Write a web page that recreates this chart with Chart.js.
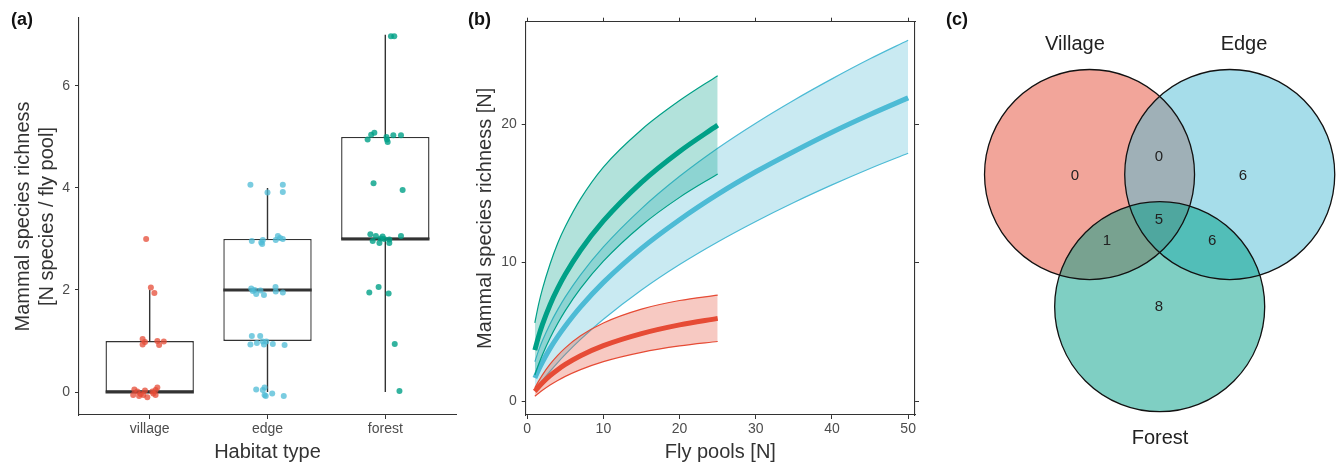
<!DOCTYPE html>
<html>
<head>
<meta charset="utf-8">
<script src="https://cdn.jsdelivr.net/npm/chart.js@4.4.1/dist/chart.umd.min.js"></script>
<style>
  body { margin: 0; background: #fff; width: 1338px; height: 466px; position: relative; overflow: hidden;
         font-family: 'Liberation Sans', Arial, sans-serif; }
  canvas { position: absolute; top: 0; }
  .tag { position: absolute; top: 8px; font-weight: bold; font-size: 18px; line-height: 22px; color: #111; }
</style>
</head>
<body>
<canvas id="box" width="460" height="466" style="left:0"></canvas>
<canvas id="curve" width="480" height="466" style="left:460px"></canvas>
<canvas id="venn" width="398" height="466" style="left:940px"></canvas>
<div class="tag" style="left:11px">(a)</div>
<div class="tag" style="left:468px">(b)</div>
<div class="tag" style="left:946px">(c)</div>
<script>
// ---- (a) richness per fly pool ----
const habitats = ['village', 'edge', 'forest'];
const whiskerLow = [0, 0, 0];
const boxQ1 = [0, 1, 3];
const boxMedian = [0, 2, 3];
const boxQ3 = [1, 3, 5];
const whiskerHigh = [2, 4, 7];
const poolTicks = [0, 2, 4, 6];

// jittered points (offset from category, value)
const villageJitter = [-0.03, 0.01, 0.04, -0.06, -0.06, 0.065, 0.08, 0.12, -0.04, -0.13, -0.14, -0.105, -0.076, -0.054, -0.02, 0.023, 0.05, 0.065, 0.05, -0.09, 0.03, -0.04];
const villageY = [3.0, 2.05, 1.94, 1.04, 0.93, 1.0, 0.92, 0.99, 0.98, 0.05, -0.06, 0.01, -0.04, -0.06, -0.1, 0.01, 0.04, 0.09, -0.06, -0.08, -0.03, 0.03];
const edgeJitter = [-0.145, 0.13, 0.0, 0.13, -0.133, -0.053, -0.04, -0.045, 0.088, 0.107, 0.13, 0.07, -0.138, -0.11, -0.096, -0.06, -0.03, 0.068, 0.07, 0.13, -0.125, -0.133, -0.145, -0.062, -0.09, -0.04, -0.03, -0.01, 0.045, 0.145, -0.096, -0.04, -0.025, -0.015, 0.04, 0.138, -0.025];
const edgeY = [4.06, 4.06, 3.91, 3.92, 2.96, 2.93, 2.98, 2.9, 3.06, 3.02, 3.0, 2.98, 2.03, 2.0, 1.92, 1.99, 1.9, 2.06, 1.97, 1.95, 1.98, 1.1, 0.93, 1.1, 0.96, 0.99, 0.93, 0.99, 0.94, 0.92, 0.05, 0.04, -0.06, -0.08, -0.03, -0.08, 0.09];
const forestJitter = [0.048, 0.076, -0.15, -0.12, -0.093, 0.014, 0.02, 0.068, 0.133, 0.01, -0.1, 0.147, -0.127, -0.08, -0.107, -0.05, -0.023, -0.01, 0.034, 0.034, 0.133, -0.04, -0.136, -0.057, 0.028, 0.08, 0.12];
const forestY = [6.97, 6.97, 4.95, 5.04, 5.08, 4.95, 4.9, 5.03, 5.03, 5.0, 4.09, 3.96, 3.09, 3.06, 2.96, 2.92, 3.05, 3.0, 2.99, 2.92, 3.06, 3.01, 1.95, 2.06, 1.93, 0.94, 0.02];

// ---- (b) accumulation curves ----
const poolsShort = [1, 1.5, 2, 3, 4, 5, 7, 10, 15, 20, 25];
const poolsLong = [1, 1.5, 2, 3, 4, 5, 7, 10, 15, 20, 25, 30, 35, 40, 45, 50];
const forestUpper = [5.65, 7.0, 8.1, 9.9, 11.4, 12.6, 14.6, 16.9, 19.6, 21.7, 23.5];
const forestMean = [3.68, 4.69, 5.54, 6.96, 8.13, 9.15, 10.89, 13.01, 15.8, 18.03, 19.93];
const forestLower = [1.88, 2.65, 3.34, 4.55, 5.6, 6.53, 8.13, 10.1, 12.68, 14.71, 16.4];
const edgeUpper = [2.84, 3.66, 4.37, 5.57, 6.6, 7.52, 9.11, 11.13, 13.9, 16.23, 18.26, 20.07, 21.73, 23.27, 24.72, 26.06];
const edgeMean = [1.66, 2.27, 2.82, 3.8, 4.65, 5.42, 6.8, 8.57, 11.03, 13.1, 14.93, 16.56, 18.03, 19.42, 20.7, 21.9];
const edgeLower = [0.75, 1.12, 1.48, 2.15, 2.78, 3.37, 4.45, 5.91, 8.02, 9.86, 11.49, 12.97, 14.34, 15.61, 16.8, 17.9];
const villageUpper = [0.95, 1.44, 1.89, 2.66, 3.3, 3.84, 4.71, 5.64, 6.64, 7.26, 7.65];
const villageMean = [0.7, 1.03, 1.32, 1.83, 2.26, 2.64, 3.27, 4.0, 4.87, 5.5, 5.97];
const villageLower = [0.35, 0.565, 0.77, 1.15, 1.48, 1.78, 2.27, 2.85, 3.52, 3.98, 4.3];
const flyTicks = [0, 10, 20, 30, 40, 50];
const speciesTicks = [0, 10, 20];

// ---- (c) shared species ----
const vennSets = ['Village', 'Edge', 'Forest'];
const vennRegions = ['Village', 'Village+Edge', 'Edge', 'All', 'Village+Forest', 'Edge+Forest', 'Forest'];
const vennCounts = [0, 0, 6, 5, 1, 6, 8];

const RED = '#E64B35', BLUE = '#4DBBD5', GREEN = '#00A087';
const INK = '#333333', TICK = '#4d4d4d';

Chart.defaults.font.family = "'Liberation Sans', Arial, sans-serif";
Chart.defaults.animation = false;
Chart.defaults.responsive = false;
Chart.defaults.devicePixelRatio = 1;
Chart.defaults.events = [];
Chart.defaults.plugins.legend.display = false;
Chart.defaults.plugins.tooltip.enabled = false;

const axisGrid = { drawOnChartArea: false, drawTicks: true, tickLength: 4, color: INK, lineWidth: 1 };
const axisBorder = { display: true, color: INK, width: 1.1 };
const tickFont = { size: 14 };
const setTicks = vals => s => { s.ticks = vals.map(v => ({ value: v })); };

// ---------- panel (a) ----------
const halfBox = 0.375;
const whiskerSegs = [], medianSegs = [];
habitats.forEach((h, i) => {
  whiskerSegs.push({ x: i, y: whiskerLow[i] }, { x: i, y: boxQ1[i] }, { x: i, y: null },
                   { x: i, y: boxQ3[i] }, { x: i, y: whiskerHigh[i] }, { x: i, y: null });
  medianSegs.push({ x: i - halfBox, y: boxMedian[i] }, { x: i + halfBox, y: boxMedian[i] }, { x: i, y: null });
});
const jitterSet = (idx, jit, ys, col) => ({
  type: 'scatter', data: ys.map((y, k) => ({ x: idx + jit[k], y })),
  backgroundColor: col, borderWidth: 0, pointRadius: 3, order: 0
});

new Chart(document.getElementById('box'), {
  type: 'bar',
  data: {
    datasets: [
      jitterSet(0, villageJitter, villageY, 'rgba(230,75,53,0.75)'),
      jitterSet(1, edgeJitter, edgeY, 'rgba(77,187,213,0.75)'),
      jitterSet(2, forestJitter, forestY, 'rgba(0,160,135,0.8)'),
      { type: 'line', data: medianSegs, borderColor: INK, borderWidth: 3, pointRadius: 0, spanGaps: false, order: 1 },
      { type: 'line', data: whiskerSegs, borderColor: INK, borderWidth: 1.4, pointRadius: 0, spanGaps: false, order: 2 },
      { type: 'bar', data: habitats.map((h, i) => ({ x: i, y: [boxQ1[i], boxQ3[i]] })),
        backgroundColor: '#fff', borderColor: INK, borderWidth: 1.4, borderSkipped: false,
        barPercentage: 0.75, categoryPercentage: 1, order: 3 }
    ]
  },
  options: {
    layout: { padding: { top: 18, right: 4, left: 0, bottom: 0 } },
    scales: {
      x: {
        type: 'linear', min: -0.6, max: 2.6, offset: false,
        afterBuildTicks: setTicks(habitats.map((h, i) => i)),
        afterFit: s => { s.height = 51; },
        grid: { ...axisGrid, offset: false }, border: axisBorder,
        ticks: { font: tickFont, color: TICK, padding: 2, maxRotation: 0, callback: v => habitats[v] },
        title: { display: true, text: 'Habitat type', color: INK, font: { size: 20, lineHeight: 1.2 }, padding: { top: 0, bottom: 2 } }
      },
      y: {
        type: 'linear', min: -0.45, max: 7.33,
        afterBuildTicks: setTicks(poolTicks),
        afterFit: s => { s.width = 79; },
        grid: axisGrid, border: axisBorder,
        ticks: { font: tickFont, color: TICK, padding: 5 },
        title: { display: true, text: ['Mammal species richness', '[N species / fly pool]'], color: INK,
                 font: { size: 20, lineHeight: 1.2 }, padding: { top: 11, bottom: 0 } }
      }
    }
  }
});

// ---------- panel (b) ----------
function band(xs, hi, mid, lo, col, fillCol, order) {
  const pts = arr => xs.map((x, i) => ({ x, y: arr[i] }));
  const base = { borderColor: col, pointRadius: 0, cubicInterpolationMode: 'monotone', borderCapStyle: 'butt' };
  return [
    { ...base, data: pts(hi), borderWidth: 1.2, fill: '+2', backgroundColor: fillCol, order: order + 0.2 },
    { ...base, data: pts(mid), borderWidth: 5, fill: false, order: order },
    { ...base, data: pts(lo), borderWidth: 1.2, fill: false, order: order + 0.1 }
  ];
}

new Chart(document.getElementById('curve'), {
  type: 'line',
  data: {
    datasets: [
      ...band(poolsLong, edgeUpper, edgeMean, edgeLower, BLUE, 'rgba(77,187,213,0.3)', 30),
      ...band(poolsShort, forestUpper, forestMean, forestLower, GREEN, 'rgba(0,160,135,0.3)', 20),
      ...band(poolsShort, villageUpper, villageMean, villageLower, RED, 'rgba(230,75,53,0.3)', 10)
    ]
  },
  options: {
    layout: { padding: { top: 17.7, right: 21, left: 0, bottom: 0 } },
    scales: {
      x: {
        type: 'linear', axis: 'x', position: 'bottom', min: -0.2, max: 50.9,
        afterBuildTicks: setTicks(flyTicks),
        afterFit: s => { s.height = 51; },
        grid: axisGrid, border: axisBorder,
        ticks: { font: tickFont, color: TICK, padding: 2, maxRotation: 0 },
        title: { display: true, text: 'Fly pools [N]', color: INK, font: { size: 20, lineHeight: 1.2 }, padding: { top: 0, bottom: 2 } }
      },
      x2: {
        type: 'linear', axis: 'x', position: 'top', min: -0.2, max: 50.9,
        afterBuildTicks: setTicks(flyTicks),
        afterFit: s => { s.height = 4; },
        grid: axisGrid, border: axisBorder, ticks: { display: false }
      },
      y: {
        type: 'linear', axis: 'y', position: 'left', min: -1.01, max: 27.4,
        afterBuildTicks: setTicks(speciesTicks),
        afterFit: s => { s.width = 65.7; },
        grid: axisGrid, border: axisBorder,
        ticks: { font: tickFont, color: TICK, padding: 5 },
        title: { display: true, text: 'Mammal species richness [N]', color: INK, font: { size: 20, lineHeight: 1.2 }, padding: { top: 13, bottom: 0 } }
      },
      y2: {
        type: 'linear', axis: 'y', position: 'right', min: -1.01, max: 27.4,
        afterBuildTicks: setTicks(speciesTicks),
        afterFit: s => { s.width = 4; },
        grid: axisGrid, border: axisBorder, ticks: { display: false }
      }
    }
  }
});

// ---------- panel (c) ----------
// layout in units of one circle radius
const circleCentres = [[-0.668, 0], [0.667, 0], [0, -1.259]];
const setAnchors = [[-0.807, 1.242], [0.803, 1.242], [0.003, -2.51]];
const regionAnchors = [[-0.807, -0.014], [-0.007, 0.167], [0.793, -0.014], [-0.007, -0.433], [-0.502, -0.633], [0.5, -0.633], [-0.007, -1.262]];
const unitRadius = ctx => { const s = ctx.chart.scales.x; return s.getPixelForValue(1) - s.getPixelForValue(0); };

const vennText = {
  id: 'vennText',
  afterDatasetsDraw(chart) {
    const { ctx, scales: { x, y } } = chart;
    ctx.save();
    ctx.textAlign = 'center';
    ctx.textBaseline = 'middle';
    ctx.fillStyle = '#222';
    ctx.font = "20px 'Liberation Sans', Arial, sans-serif";
    vennSets.forEach((name, i) => ctx.fillText(name, x.getPixelForValue(setAnchors[i][0]), y.getPixelForValue(setAnchors[i][1])));
    ctx.font = "15px 'Liberation Sans', Arial, sans-serif";
    vennRegions.forEach((r, i) => ctx.fillText(String(vennCounts[i]), x.getPixelForValue(regionAnchors[i][0]), y.getPixelForValue(regionAnchors[i][1])));
    ctx.restore();
  }
};

const centrePts = circleCentres.map(c => ({ x: c[0], y: c[1] }));
new Chart(document.getElementById('venn'), {
  type: 'scatter',
  data: {
    datasets: [
      { data: centrePts, pointBackgroundColor: 'rgba(0,0,0,0)', pointBorderColor: '#111',
        pointBorderWidth: 1.3, pointRadius: unitRadius, order: 0 },
      { data: centrePts,
        pointBackgroundColor: ['rgba(230,75,53,0.5)', 'rgba(77,187,213,0.5)', 'rgba(0,160,135,0.5)'],
        pointBorderWidth: 0, pointRadius: unitRadius, order: 1 }
    ]
  },
  options: {
    layout: { padding: 0 },
    clip: false,
    scales: {
      x: { type: 'linear', display: false, min: -2.092, max: 1.698 },
      y: { type: 'linear', display: false, min: -2.776, max: 1.662 }
    }
  },
  plugins: [vennText]
});
</script>
</body>
</html>
